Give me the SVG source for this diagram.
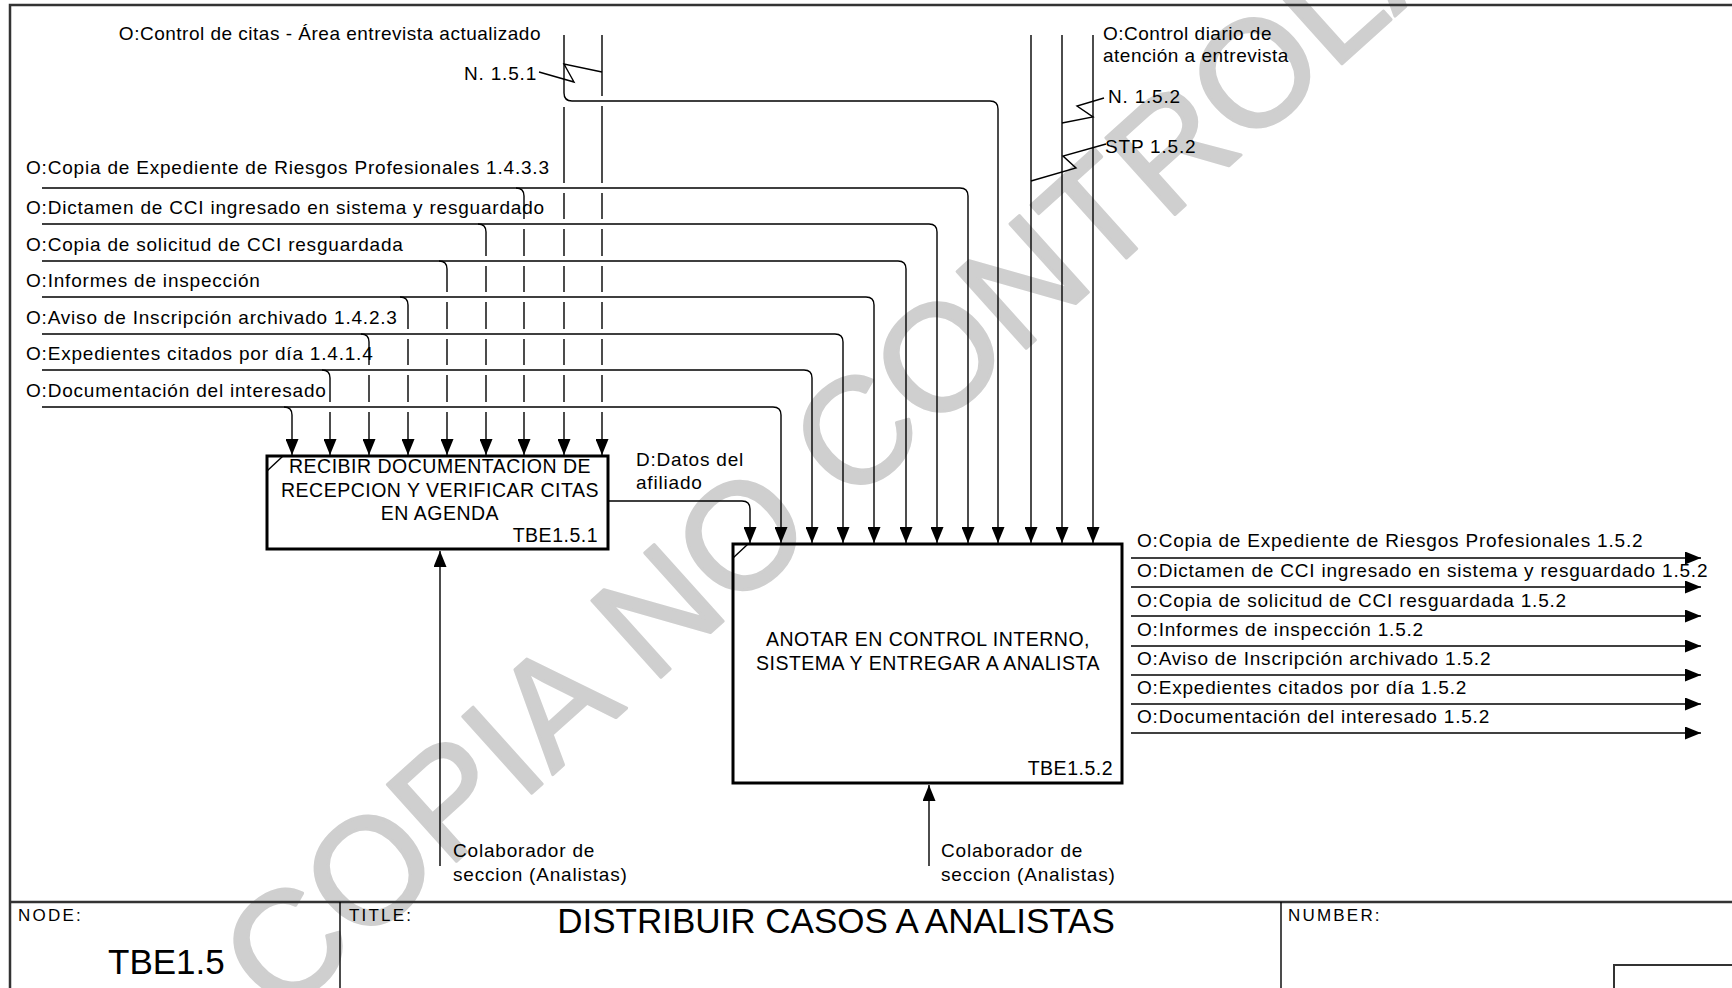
<svg xmlns="http://www.w3.org/2000/svg" width="1732" height="988" viewBox="0 0 1732 988">
<style>
.t{font-family:"Liberation Sans",Arial,sans-serif;font-size:19px;letter-spacing:0.8px;fill:#000}
.bt{font-family:"Liberation Sans",Arial,sans-serif;font-size:19.5px;letter-spacing:0.5px;fill:#000}
.sm{font-family:"Liberation Sans",Arial,sans-serif;font-size:17px;letter-spacing:2.2px;fill:#000}
.big{font-family:"Liberation Sans",Arial,sans-serif;font-size:35px;fill:#000}
.ln{stroke:#000;stroke-width:1.4;fill:none}
.ar{stroke:#000;stroke-width:1.4;fill:none;marker-end:url(#ah)}
.box{stroke:#000;stroke-width:3;fill:none}
.fr{stroke:#333;stroke-width:2.5;fill:none}
.wm{font-family:"Liberation Sans",Arial,sans-serif;font-size:150px;fill:#cfcfcf;stroke:#cfcfcf;stroke-width:3;stroke-linejoin:round}
</style>
<defs>
<marker id="ah" viewBox="0 0 16 13" refX="16" refY="6.5" markerWidth="16" markerHeight="13" orient="auto" markerUnits="userSpaceOnUse"><path d="M0,0 L16,6.5 L0,13 z" fill="#000"/></marker>
</defs>
<rect width="1732" height="988" fill="#fff"/>
<g id="watermark">
<text class="wm" text-anchor="middle" transform="translate(952,415) rotate(-42)">COPIA NO CONTROLADA</text>
</g>
<g id="frame">
<path class="fr" d="M10,995 V5 H1740"/>
</g>
<g id="connectors">
<path class="ar" d="M42,188 H960 Q968,188 968,196 V543"/>
<path class="ar" d="M42,224 H929 Q937,224 937,232 V543"/>
<path class="ar" d="M42,261 H898 Q906,261 906,269 V543"/>
<path class="ar" d="M42,297 H866 Q874,297 874,305 V543"/>
<path class="ar" d="M42,334 H835 Q843,334 843,342 V543"/>
<path class="ar" d="M42,370 H804 Q812,370 812,378 V543"/>
<path class="ar" d="M42,407 H773 Q781,407 781,415 V543"/>
<path class="ar" d="M516,188 Q524,188 524,196 V219 M524,229 V256 M524,266 V292 M524,302 V329 M524,339 V365 M524,375 V402 M524,412 V455"/>
<path class="ar" d="M478,224 Q486,224 486,232 V256 M486,266 V292 M486,302 V329 M486,339 V365 M486,375 V402 M486,412 V455"/>
<path class="ar" d="M439,261 Q447,261 447,269 V292 M447,302 V329 M447,339 V365 M447,375 V402 M447,412 V455"/>
<path class="ar" d="M400,297 Q408,297 408,305 V329 M408,339 V365 M408,375 V402 M408,412 V455"/>
<path class="ar" d="M361,334 Q369,334 369,342 V365 M369,375 V402 M369,412 V455"/>
<path class="ar" d="M322,370 Q330,370 330,378 V402 M330,412 V455"/>
<path class="ar" d="M284,407 Q292,407 292,415 V455"/>
<path class="ar" d="M564,35 V93 Q564,101 572,101 H990 Q998,101 998,109 V543"/>
<path class="ar" d="M564,107 V183 M564,193 V219 M564,229 V256 M564,266 V292 M564,302 V329 M564,339 V365 M564,375 V402 M564,412 V455"/>
<path class="ar" d="M602,35 V96 M602,106 V183 M602,193 V219 M602,229 V256 M602,266 V292 M602,302 V329 M602,339 V365 M602,375 V402 M602,412 V455"/>
<path class="ar" d="M1031,35 V543"/>
<path class="ar" d="M1062,35 V543"/>
<path class="ar" d="M1093,35 V543"/>
<path class="ln" d="M539,72 L574,82 L564,64 L602,72"/>
<path class="ln" d="M1104,98 L1077,106 L1093,117 L1062,123"/>
<path class="ln" d="M1106,144 L1063,156 L1076,168 L1031,181"/>
<path class="ar" d="M609,501 H742 Q750,501 750,509 V543"/>
<path class="ar" d="M1131,558 H1701"/>
<path class="ar" d="M1131,587 H1701"/>
<path class="ar" d="M1131,616 H1701"/>
<path class="ar" d="M1131,646 H1701"/>
<path class="ar" d="M1131,675 H1701"/>
<path class="ar" d="M1131,704 H1701"/>
<path class="ar" d="M1131,733 H1701"/>
<path class="ar" d="M440,866 V551"/>
<path class="ar" d="M929,866 V785"/>
</g>
<g id="node-TBE1.5.1">
<rect class="box" x="267" y="456" width="341" height="93"/>
<path class="ln" d="M267,471 L283,456" stroke-width="2"/>
<text class="bt" x="440" y="473" text-anchor="middle">RECIBIR DOCUMENTACION DE</text>
<text class="bt" x="440" y="497" text-anchor="middle">RECEPCION Y VERIFICAR CITAS</text>
<text class="bt" x="440" y="520" text-anchor="middle">EN AGENDA</text>
<text class="bt" x="598" y="542" text-anchor="end">TBE1.5.1</text>
</g>
<g id="node-TBE1.5.2">
<rect class="box" x="733" y="544" width="389" height="239"/>
<path class="ln" d="M733,558 L748,544" stroke-width="2"/>
<text class="bt" x="928" y="646" text-anchor="middle">ANOTAR EN CONTROL INTERNO,</text>
<text class="bt" x="928" y="670" text-anchor="middle">SISTEMA Y ENTREGAR A ANALISTA</text>
<text class="bt" x="1113" y="775" text-anchor="end">TBE1.5.2</text>
</g>
<g id="labels">
<text class="t" x="541" y="40" text-anchor="end" style="letter-spacing:0.5px">O:Control de citas - Área entrevista actualizado</text>
<text class="t" x="537" y="80" text-anchor="end">N. 1.5.1</text>
<text class="t" x="1103" y="40" style="letter-spacing:0.5px">O:Control diario de</text>
<text class="t" x="1103" y="62" style="letter-spacing:0.5px">atención a entrevista</text>
<text class="t" x="1108" y="103">N. 1.5.2</text>
<text class="t" x="1105" y="153">STP 1.5.2</text>
<text class="t" x="26" y="174">O:Copia de Expediente de Riesgos Profesionales 1.4.3.3</text>
<text class="t" x="26" y="214">O:Dictamen de CCI ingresado en sistema y resguardado</text>
<text class="t" x="26" y="251">O:Copia de solicitud de CCI resguardada</text>
<text class="t" x="26" y="287">O:Informes de inspección</text>
<text class="t" x="26" y="324">O:Aviso de Inscripción archivado 1.4.2.3</text>
<text class="t" x="26" y="360">O:Expedientes citados por día 1.4.1.4</text>
<text class="t" x="26" y="397">O:Documentación del interesado</text>
<text class="t" x="636" y="466">D:Datos del</text>
<text class="t" x="636" y="489">afiliado</text>
<text class="t" x="1137" y="547">O:Copia de Expediente de Riesgos Profesionales 1.5.2</text>
<text class="t" x="1137" y="577">O:Dictamen de CCI ingresado en sistema y resguardado 1.5.2</text>
<text class="t" x="1137" y="607">O:Copia de solicitud de CCI resguardada 1.5.2</text>
<text class="t" x="1137" y="636">O:Informes de inspección 1.5.2</text>
<text class="t" x="1137" y="665">O:Aviso de Inscripción archivado 1.5.2</text>
<text class="t" x="1137" y="694">O:Expedientes citados por día 1.5.2</text>
<text class="t" x="1137" y="723">O:Documentación del interesado 1.5.2</text>
<text class="t" x="453" y="857">Colaborador de</text>
<text class="t" x="453" y="881">seccion (Analistas)</text>
<text class="t" x="941" y="857">Colaborador de</text>
<text class="t" x="941" y="881">seccion (Analistas)</text>
</g>
<g id="title-block">
<path class="fr" d="M10,902 H1740"/>
<path class="ln" d="M340,902 V990 M1281,902 V990"/>
<rect x="1614" y="965" width="130" height="40" fill="none" stroke="#333" stroke-width="2"/>
<text class="sm" x="18" y="921">NODE:</text>
<text class="sm" x="349" y="921">TITLE:</text>
<text class="sm" x="1288" y="921">NUMBER:</text>
<text class="big" x="836" y="933" text-anchor="middle">DISTRIBUIR CASOS A ANALISTAS</text>
<text class="big" x="108" y="974">TBE1.5</text>
</g>
</svg>
